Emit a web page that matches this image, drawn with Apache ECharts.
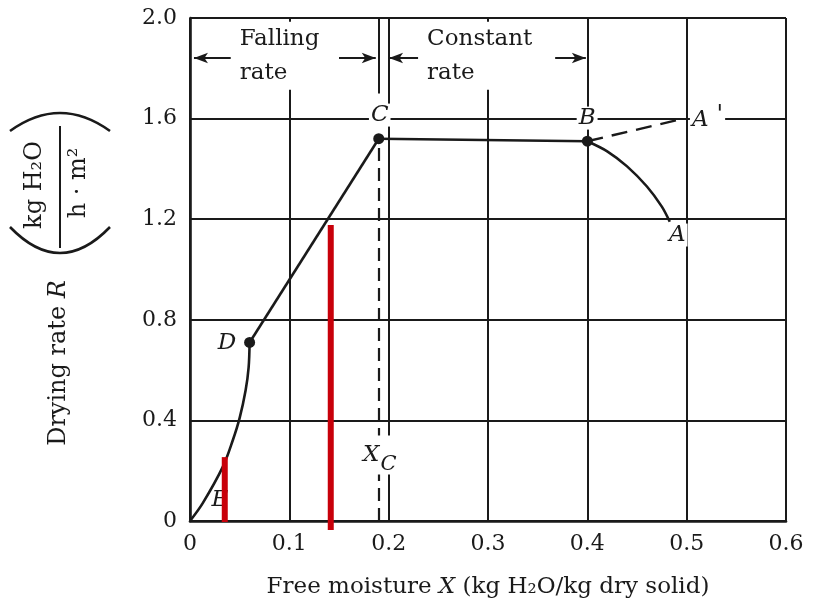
<!DOCTYPE html>
<html><head><meta charset="utf-8">
<script src="https://cdn.jsdelivr.net/npm/echarts@6/dist/echarts.min.js"></script>
<style>html,body{margin:0;padding:0;background:#fff}#c{width:815px;height:607px}</style>
</head><body><div id="c"></div>
<script>
// ---- data ----
const xTicks = ['0', '0.1', '0.2', '0.3', '0.4', '0.5', '0.6'];
const yTicks = ['0', '0.4', '0.8', '1.2', '1.6', '2.0'];
// falling-rate (second part) E -> D, curved
const fallingSecond = [[0, 0], [0.013, 0.072], [0.033, 0.215], [0.043, 0.32], [0.05, 0.41], [0.056, 0.52], [0.059, 0.61], [0.06, 0.71]];
// falling-rate (first part) D -> C, straight
const fallingFirst = [[0.06, 0.71], [0.19, 1.52]];
// constant-rate C -> B
const constantRate = [[0.19, 1.52], [0.40, 1.51]];
// initial period B -> A (cold solid)
const initialA = [[0.40, 1.51], [0.42, 1.47], [0.44, 1.41], [0.46, 1.33], [0.475, 1.25], [0.483, 1.19]];
// initial period B -> A' (hot solid), dashed
const initialAPrime = [[0.40, 1.51], [0.497, 1.60]];
// marked points D, C, B
const keyPoints = [[0.06, 0.71], [0.19, 1.52], [0.40, 1.51]];
// critical moisture X_C
const criticalX = 0.19;
const criticalRate = 1.52;
// red highlight bars [x, yBottom, yTop]
const redBars = [[0.035, -0.004, 0.254], [0.1417, -0.036, 1.177]];
// point labels [text, x, y, whiteBackground]
const pointLabels = [
  ['{i|C}', 0.191, 1.614, true],
  ['{i|B}', 0.3998, 1.602, true],
  ['{i|A}{p|\'}', 0.521, 1.594, true],
  ['{i|A}', 0.4905, 1.137, true],
  ['{i|D}', 0.0373, 0.708, false],
  ['{i|E}', 0.030, 0.083, false],
  ['{i|X}{s|C}', 0.191, 0.262, true]
];
// header period labels [text, xLeft, y]
const periodLabels = [['Falling\nrate', 0.048, 1.85], ['Constant\nrate', 0.2367, 1.85]];
// header arrows [xFrom, xTo, y]
const periodArrows = [[0.041, 0.004, 1.841], [0.150, 0.187, 1.841], [0.2296, 0.2004, 1.841], [0.3676, 0.3985, 1.841]];

// ---- chart ----
const FONT = 'DejaVu Serif';
const INK = '#1a1a1a';
const chart = echarts.init(document.getElementById('c'), null, {renderer: 'canvas'});

const lineSeries = (data, opts) => Object.assign({
  type: 'line', data: data, symbol: 'none', smooth: false, silent: true, animation: false,
  lineStyle: {color: INK, width: 2.6}, z: 4
}, opts || {});

const richItalic = {
  i: {fontFamily: FONT, fontStyle: 'italic', fontSize: 23, color: INK},
  p: {fontFamily: FONT, fontStyle: 'italic', fontSize: 24, color: INK, padding: [0, 0, 8, 8]},
  s: {fontFamily: FONT, fontStyle: 'italic', fontSize: 21, color: INK, padding: [18, 0, 0, 1]}
};

const series = [
  lineSeries(fallingSecond, {smooth: 0.35}),
  lineSeries(fallingFirst),
  lineSeries(constantRate),
  lineSeries(initialA, {smooth: 0.3}),
  lineSeries(initialAPrime, {lineStyle: {color: INK, width: 2.4, type: [16, 9]}}),
  {
    type: 'scatter', data: keyPoints, symbol: 'circle', symbolSize: 11, silent: true, animation: false,
    itemStyle: {color: INK, opacity: 1}, z: 6
  },
  {
    type: 'line', data: [], silent: true, animation: false, z: 3,
    markLine: {
      silent: true, animation: false, symbol: ['none', 'none'], label: {show: false},
      lineStyle: {color: INK, width: 2, type: 'solid'},
      data: [
        [{coord: [criticalX, 0], lineStyle: {type: [13, 7], width: 2.2, color: INK}}, {coord: [criticalX, criticalRate]}],
        [{coord: [criticalX, 1.70]}, {coord: [criticalX, 2.0]}]
      ].concat(periodArrows.map(a => [
        {coord: [a[0], a[2]], symbol: 'none'},
        {coord: [a[1], a[2]], symbol: 'arrow', symbolSize: [8, 14]}
      ]))
    }
  },
  {
    type: 'scatter', symbolSize: 0, silent: true, animation: false, z: 5,
    itemStyle: {opacity: 1, color: INK},
    data: pointLabels.map(p => ({value: [p[1], p[2]], text: p[0], bg: p[3]})),
    label: {
      show: true, position: 'inside', color: INK, textBorderWidth: 0,
      formatter: p => p.data.text,
      rich: richItalic
    }
  },
  {
    type: 'scatter', symbolSize: 0, silent: true, animation: false, z: 5,
    itemStyle: {opacity: 1, color: INK},
    data: periodLabels.map(p => ({value: [p[1], p[2]], text: p[0]})),
    label: {
      show: true, position: 'right', distance: 0,
      formatter: p => p.data.text, textBorderWidth: 0,
      fontFamily: FONT, fontSize: 23, lineHeight: 34, color: INK, align: 'left',
      backgroundColor: '#fff', padding: [0, 4, 0, 2]
    }
  }
].concat(redBars.map(b => lineSeries([[b[0], b[1]], [b[0], b[2]]], {
  clip: false, z: 10, lineStyle: {color: '#c8000a', width: 6, cap: 'butt'}
})));

// white background on selected point labels
series[7].data.forEach(d => {
  if (d.bg) d.label = {backgroundColor: '#fff', padding: [0, 2]};
});

chart.setOption({
  backgroundColor: '#fff',
  animation: false,
  grid: {left: 190, top: 18, right: 29, bottom: 86, containLabel: false},
  xAxis: {
    type: 'value', min: 0, max: 0.6, interval: 0.1,
    axisLine: {show: true, onZero: false, lineStyle: {color: INK, width: 2.6}},
    axisTick: {show: false},
    splitLine: {show: true, lineStyle: {color: INK, width: 2}},
    axisLabel: {
      margin: 12, fontFamily: FONT, fontSize: 22, color: INK,
      formatter: v => xTicks[Math.round(v * 10)]
    },
    name: 'Free moisture {i|X} (kg H\u2082O/kg dry solid)',
    nameLocation: 'middle', nameGap: 55,
    nameTextStyle: {fontFamily: FONT, fontSize: 23, color: INK, rich: {i: {fontFamily: FONT, fontStyle: 'italic', fontSize: 23, color: INK}}}
  },
  yAxis: {
    type: 'value', min: 0, max: 2.0, interval: 0.4,
    axisLine: {show: true, onZero: false, lineStyle: {color: INK, width: 2.6}},
    axisTick: {show: false},
    splitLine: {show: true, lineStyle: {color: INK, width: 2}},
    axisLabel: {
      margin: 13, fontFamily: FONT, fontSize: 22, color: INK,
      formatter: v => yTicks[Math.round(v / 0.4)]
    }
  },
  graphic: [
    {
      type: 'text', x: 59, y: 363, rotation: Math.PI / 2, silent: true,
      style: {
        text: 'Drying rate {i|R}', fill: INK, font: '24px "DejaVu Serif"',
        align: 'center', verticalAlign: 'middle', textAlign: 'center', textVerticalAlign: 'middle',
        rich: {i: {fontFamily: FONT, fontStyle: 'italic', fontSize: 24, fill: INK, color: INK}}
      }
    },
    {
      type: 'text', x: 35, y: 185, rotation: Math.PI / 2, silent: true,
      style: {
        text: 'kg H\u2082O', fill: INK, font: '24px "DejaVu Serif"',
        align: 'center', verticalAlign: 'middle', textAlign: 'center', textVerticalAlign: 'middle'
      }
    },
    {
      type: 'line', silent: true,
      shape: {x1: 60, y1: 126, x2: 60, y2: 248},
      style: {stroke: INK, lineWidth: 2}
    },
    {
      type: 'text', x: 79, y: 183, rotation: Math.PI / 2, silent: true,
      style: {
        text: 'h \u00b7 m\u00b2', fill: INK, font: '24px "DejaVu Serif"',
        align: 'center', verticalAlign: 'middle', textAlign: 'center', textVerticalAlign: 'middle'
      }
    },
    {
      type: 'bezierCurve', silent: true,
      shape: {x1: 10, y1: 131, x2: 110, y2: 131, cpx1: 60, cpy1: 95},
      style: {stroke: INK, lineWidth: 2.6, fill: null}
    },
    {
      type: 'bezierCurve', silent: true,
      shape: {x1: 10, y1: 227, x2: 110, y2: 227, cpx1: 60, cpy1: 279},
      style: {stroke: INK, lineWidth: 2.6, fill: null}
    }
  ],
  series: series
});
</script>
</body></html>
